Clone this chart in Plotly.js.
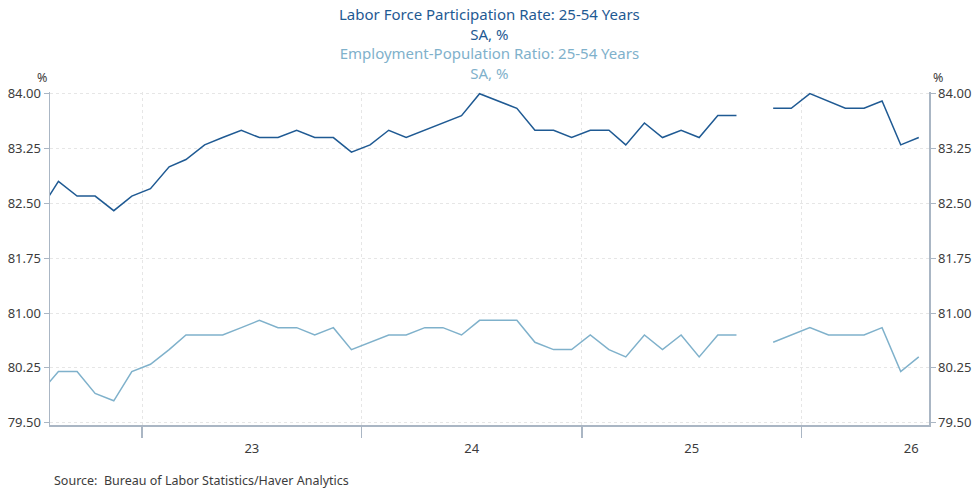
<!DOCTYPE html>
<html>
<head>
<meta charset="utf-8">
<script src="https://cdn.plot.ly/plotly-3.0.1.min.js"></script>
<style>html,body{margin:0;padding:0;background:#fff;}#chart{width:980px;height:492px;}</style>
</head>
<body>
<div id="chart"></div>
<script>
// Monthly observations (plotted mid-month), Jul 2022 - Jul 2026
var months = [
  '2022-07','2022-08','2022-09','2022-10','2022-11','2022-12',
  '2023-01','2023-02','2023-03','2023-04','2023-05','2023-06','2023-07','2023-08','2023-09','2023-10','2023-11','2023-12',
  '2024-01','2024-02','2024-03','2024-04','2024-05','2024-06','2024-07','2024-08','2024-09','2024-10','2024-11','2024-12',
  '2025-01','2025-02','2025-03','2025-04','2025-05','2025-06','2025-07','2025-08','2025-09','2025-10','2025-11','2025-12',
  '2026-01','2026-02','2026-03','2026-04','2026-05','2026-06','2026-07'
];
var lfpr = [
  82.4, 82.8, 82.6, 82.6, 82.4, 82.6,
  82.7, 83.0, 83.1, 83.3, 83.4, 83.5, 83.4, 83.4, 83.5, 83.4, 83.4, 83.2,
  83.3, 83.5, 83.4, 83.5, 83.6, 83.7, 84.0, 83.9, 83.8, 83.5, 83.5, 83.4,
  83.5, 83.5, 83.3, 83.6, 83.4, 83.5, 83.4, 83.7, 83.7, null, 83.8, 83.8,
  84.0, 83.9, 83.8, 83.8, 83.9, 83.3, 83.4
];
var epop = [
  79.9, 80.2, 80.2, 79.9, 79.8, 80.2,
  80.3, 80.5, 80.7, 80.7, 80.7, 80.8, 80.9, 80.8, 80.8, 80.7, 80.8, 80.5,
  80.6, 80.7, 80.7, 80.8, 80.8, 80.7, 80.9, 80.9, 80.9, 80.6, 80.5, 80.5,
  80.7, 80.5, 80.4, 80.7, 80.5, 80.7, 80.4, 80.7, 80.7, null, 80.6, 80.7,
  80.8, 80.7, 80.7, 80.7, 80.8, 80.2, 80.4
];
var yTicks = [79.5, 80.25, 81.0, 81.75, 82.5, 83.25, 84.0];
var titleLines = ['Labor Force Participation Rate: 25-54 Years', 'SA, %', 'Employment-Population Ratio: 25-54 Years', 'SA, %'];
var sourceText = 'Source:  Bureau of Labor Statistics/Haver Analytics';

var dates = months.map(function(m){ return m + '-15'; });
var darkBlue = '#1f5a93';
var lightBlue = '#7fb1cb';
var axisCol = '#aab6c4';
var gridCol = '#e6e6e6';
var textCol = '#3c3c3c';
var FONT = 'Noto Sans, Open Sans, sans-serif';

var traces = [
  {x: dates, y: lfpr, type: 'scatter', mode: 'lines', line: {color: darkBlue, width: 1.5}, connectgaps: false, xaxis: 'x', yaxis: 'y', hoverinfo: 'skip'},
  {x: dates, y: epop, type: 'scatter', mode: 'lines', line: {color: lightBlue, width: 1.5}, connectgaps: false, xaxis: 'x', yaxis: 'y2', hoverinfo: 'skip'}
];

var yRange = [79.469, 84.023];
var yCommon = {
  range: yRange, tickvals: yTicks, tickformat: '.2f',
  ticks: 'outside', ticklen: 5, tickcolor: axisCol, tickwidth: 1,
  showline: true, linecolor: axisCol, linewidth: 1.5,
  tickfont: {family: FONT, size: 13, color: textCol},
  zeroline: false, fixedrange: true
};

var yaxis = Object.assign({}, yCommon, {side: 'left', showgrid: true, gridcolor: gridCol, griddash: 'dot', gridwidth: 1});
var yaxis2 = Object.assign({}, yCommon, {side: 'right', overlaying: 'y', showgrid: false});

var titleColors = [darkBlue, darkBlue, lightBlue, lightBlue];
var titleHtml = titleLines.map(function(t, i){
  return '<span style="color:' + titleColors[i] + '">' + t + '</span>';
}).join('<br>');

var annotations = [];
annotations.push({
  text: titleHtml, xref: 'paper', yref: 'paper', x: 0.5, y: 1,
  xanchor: 'center', yanchor: 'middle', yshift: 92 - 43.5, align: 'center',
  showarrow: false, font: {family: FONT, size: 15, color: darkBlue}
});
annotations.push({text: '%', xref: 'paper', yref: 'paper', x: 0, y: 1, xanchor: 'center', yanchor: 'middle', xshift: -8, yshift: 15, showarrow: false, font: {family: FONT, size: 12.5, color: textCol}});
annotations.push({text: '%', xref: 'paper', yref: 'paper', x: 1, y: 1, xanchor: 'center', yanchor: 'middle', xshift: 9, yshift: 15, showarrow: false, font: {family: FONT, size: 12.5, color: textCol}});
annotations.push({text: sourceText, xref: 'paper', yref: 'paper', x: 0, y: 0, xanchor: 'left', yanchor: 'middle', xshift: 2, yshift: -55, showarrow: false, font: {family: FONT, size: 12.5, color: textCol}});

var layout = {
  width: 980, height: 492,
  margin: {l: 50, r: 51, t: 92, b: 67, pad: 0},
  paper_bgcolor: '#ffffff', plot_bgcolor: '#ffffff',
  showlegend: false,
  xaxis: {
    type: 'date', range: ['2022-08-01', '2026-08-01'],
    tick0: '2023-01-01', dtick: 'M12', tickformat: '%y', ticklabelmode: 'period',
    ticks: 'outside', ticklen: 11, tickcolor: axisCol, tickwidth: 1.5,
    showline: true, linecolor: axisCol, linewidth: 1.5,
    showgrid: true, gridcolor: gridCol, griddash: 'dot', gridwidth: 1,
    tickfont: {family: FONT, size: 13, color: textCol},
    zeroline: false, fixedrange: true
  },
  yaxis: yaxis,
  yaxis2: yaxis2,
  annotations: annotations
};

Plotly.newPlot('chart', traces, layout, {staticPlot: true, displayModeBar: false});
</script>
</body>
</html>
